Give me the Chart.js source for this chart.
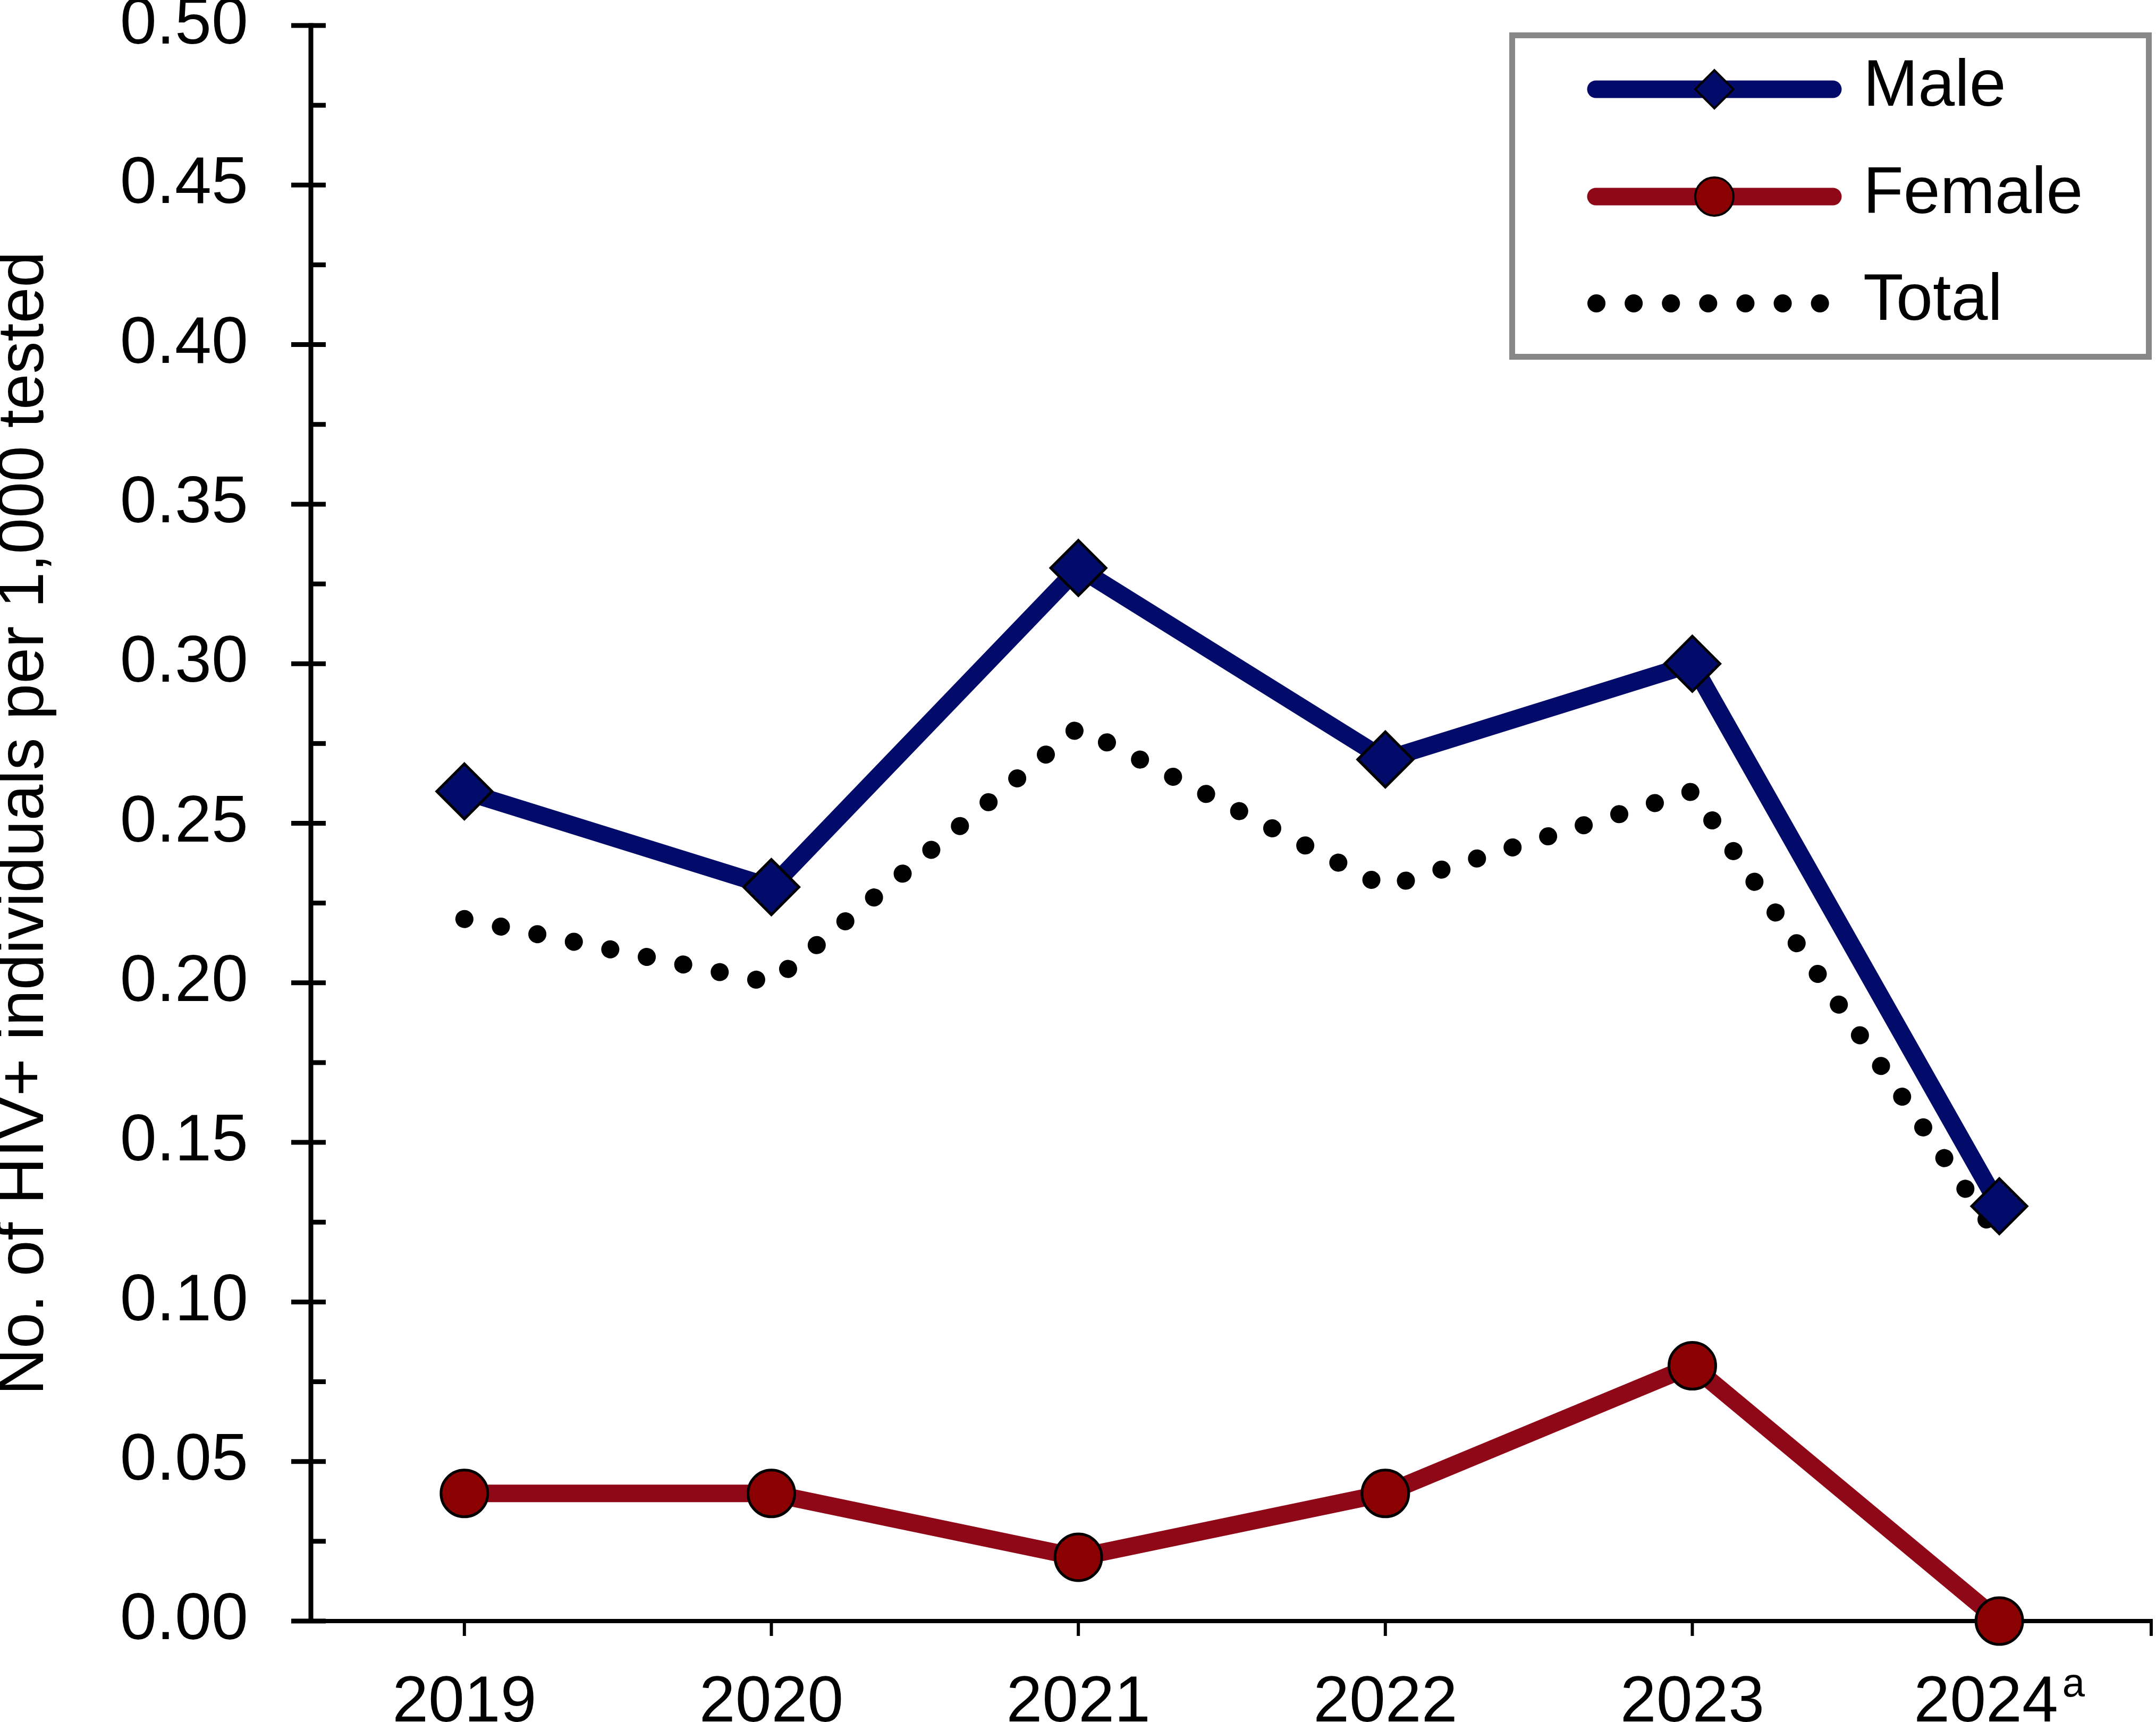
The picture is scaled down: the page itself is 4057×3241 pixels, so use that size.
<!DOCTYPE html>
<html>
<head>
<meta charset="utf-8">
<script src="https://cdn.jsdelivr.net/npm/chart.js@4.4.1/dist/chart.umd.min.js"></script>
<style>
    html, body { margin: 0; padding: 0; background: #fff; }
    canvas { display: block; }
</style>
</head>
<body>
<canvas id="hivChart" width="4057" height="3241"></canvas>
<script>
// HIV+ per 1,000 tested, by sex

const years = ['2019', '2020', '2021', '2022', '2023', '2024ᵃ'];
const maleValues = [0.26, 0.23, 0.33, 0.27, 0.30, 0.13];
const femaleValues = [0.04, 0.04, 0.02, 0.04, 0.08, 0.00];
const totalValues = [0.22, 0.20, 0.28, 0.23, 0.26, 0.12];

const yMajorTicks = [0, 0.05, 0.10, 0.15, 0.20, 0.25, 0.30, 0.35, 0.40, 0.45, 0.50];
const yMinorTicks = [0.025, 0.075, 0.125, 0.175, 0.225, 0.275, 0.325, 0.375, 0.425, 0.475];
const yTitle = 'No. of HIV+ individuals per 1,000 tested';

const FONT = '"Liberation Sans", Arial, sans-serif';
const SUP = 'ᵃ';

function strokeLine(ctx, x1, y1, x2, y2) {
    ctx.beginPath();
    ctx.moveTo(x1, y1);
    ctx.lineTo(x2, y2);
    ctx.stroke();
}

// axis lines, tick marks and year labels, drawn under the data
const axesPlugin = {
    id: 'axes',
    beforeDatasetsDraw(chart) {
        const { ctx, chartArea: a, scales: { x, y } } = chart;
        ctx.save();
        ctx.strokeStyle = '#000';
        ctx.lineCap = 'butt';

        ctx.lineWidth = 9;
        strokeLine(ctx, a.left, a.top - 4.5, a.left, a.bottom + 4);

        ctx.lineWidth = 8;
        strokeLine(ctx, a.left, a.bottom, a.right, a.bottom);

        ctx.lineWidth = 9;
        yMajorTicks.forEach(v => {
            const py = y.getPixelForValue(v);
            strokeLine(ctx, a.left - 37, py, a.left + 28, py);
        });
        yMinorTicks.forEach(v => {
            const py = y.getPixelForValue(v);
            strokeLine(ctx, a.left, py, a.left + 28, py);
        });

        ctx.lineWidth = 6;
        years.forEach((_, i) => {
            const px = x.getPixelForValue(i);
            strokeLine(ctx, px, a.bottom, px, a.bottom + 28);
        });
        strokeLine(ctx, a.right - 3, a.bottom, a.right - 3, a.bottom + 28);

        // year labels, with a raised footnote letter where the label has one
        ctx.fillStyle = '#000';
        ctx.textBaseline = 'alphabetic';
        ctx.textAlign = 'left';
        const baseFont = '122px ' + FONT;
        const supFont = '76px ' + FONT;
        const baseY = a.bottom + 189;
        years.forEach((label, i) => {
            const px = x.getPixelForValue(i);
            const hasSup = label.endsWith(SUP);
            const base = hasSup ? label.slice(0, -SUP.length) : label;
            ctx.font = baseFont;
            const wBase = ctx.measureText(base).width;
            let wSup = 0;
            if (hasSup) {
                ctx.font = supFont;
                wSup = ctx.measureText('a').width + 8;
            }
            const x0 = px - (wBase + wSup) / 2;
            ctx.font = baseFont;
            ctx.fillText(base, x0, baseY);
            if (hasSup) {
                ctx.font = supFont;
                ctx.fillText('a', x0 + wBase + 8, baseY - 47);
            }
        });
        ctx.restore();
    }
};

function drawMarker(ctx, style, r, fill, x, y) {
    ctx.save();
    ctx.fillStyle = fill;
    ctx.strokeStyle = '#000';
    ctx.lineWidth = 4;
    ctx.setLineDash([]);
    ctx.beginPath();
    if (style === 'rectRot') {
        ctx.moveTo(x - r, y);
        ctx.lineTo(x, y - r);
        ctx.lineTo(x + r, y);
        ctx.lineTo(x, y + r);
        ctx.closePath();
    } else {
        ctx.arc(x, y, r, 0, Math.PI * 2);
    }
    ctx.fill();
    ctx.stroke();
    ctx.restore();
}

// boxed legend with line samples
const legendPlugin = {
    id: 'boxLegend',
    afterDraw(chart) {
        const ctx = chart.ctx;
        ctx.save();
        ctx.fillStyle = '#fff';
        ctx.fillRect(2840, 61, 1209, 616);
        ctx.lineWidth = 11;
        ctx.strokeStyle = '#878787';
        ctx.strokeRect(2845.5, 66.5, 1198, 605);

        const rows = [168, 370, 571];
        const markerSize = { rectRot: 36, circle: 36 };
        chart.data.datasets.forEach((ds, i) => {
            const ry = rows[i];
            ctx.save();
            ctx.lineCap = 'round';
            ctx.lineWidth = ds.borderWidth;
            ctx.strokeStyle = ds.borderColor;
            if (ds.borderDash) {
                ctx.setLineDash(ds.borderDash);
                strokeLine(ctx, 3004, ry, 3430, ry);
            } else {
                strokeLine(ctx, 3003, ry, 3449, ry);
            }
            ctx.restore();
            if (ds.pointRadius > 0) {
                drawMarker(ctx, ds.pointStyle, markerSize[ds.pointStyle], ds.pointBackgroundColor, 3226, ry);
            }
            ctx.fillStyle = '#000';
            ctx.font = '124px ' + FONT;
            ctx.textAlign = 'left';
            ctx.textBaseline = 'middle';
            ctx.fillText(ds.label, 3506, ry - 3);
        });
        ctx.restore();
    }
};

new Chart(document.getElementById('hivChart'), {
    type: 'line',
    data: {
        labels: years,
        datasets: [
            {
                label: 'Male',
                data: maleValues,
                borderColor: '#020b6a',
                borderWidth: 33,
                pointStyle: 'rectRot',
                pointRadius: 52,
                pointBackgroundColor: '#020b6a',
                pointBorderColor: '#000',
                pointBorderWidth: 5,
                clip: false,
            },
            {
                label: 'Female',
                data: femaleValues,
                borderColor: '#8f0817',
                borderWidth: 33,
                pointStyle: 'circle',
                pointRadius: 44,
                pointBackgroundColor: '#8b0000',
                pointBorderColor: '#000',
                pointBorderWidth: 5,
                clip: false,
            },
            {
                label: 'Total',
                data: totalValues,
                borderColor: '#000',
                borderWidth: 34,
                borderDash: [0.1, 70],
                borderCapStyle: 'round',
                pointRadius: 0,
                clip: false,
            },
        ]
    },
    options: {
        responsive: false,
        animation: false,
        devicePixelRatio: 1,
        events: [],
        layout: {
            autoPadding: false,
            padding: { top: 48, right: 6, bottom: 0, left: 0 },
        },
        plugins: {
            legend: { display: false },
            tooltip: { enabled: false },
        },
        scales: {
            x: {
                type: 'category',
                offset: true,
                grid: { display: false },
                border: { display: false },
                ticks: { display: false },
                afterFit: s => {
                    s.height = 190;
                    s.paddingLeft = 0;
                    s.paddingRight = 0;
                },
            },
            y: {
                min: 0,
                max: 0.5,
                grid: { display: false },
                border: { display: false },
                ticks: {
                    stepSize: 0.05,
                    color: '#000',
                    font: { family: FONT, size: 124 },
                    padding: 110,
                    callback: v => v.toFixed(2),
                },
                title: {
                    display: true,
                    text: yTitle,
                    color: '#000',
                    font: { family: FONT, size: 122, lineHeight: 0.77 },
                    padding: 0,
                },
                afterFit: s => {
                    s.width = 585;
                    s.paddingTop = 0;
                    s.paddingBottom = 0;
                },
            }
        }
    },
    plugins: [axesPlugin, legendPlugin]
});
</script>
</body>
</html>
